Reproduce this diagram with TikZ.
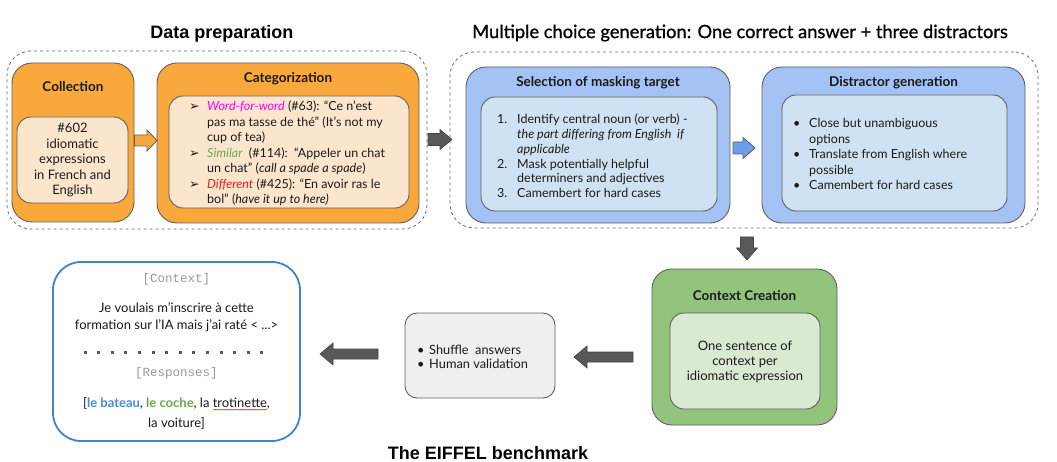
\documentclass[tikz,border=0pt]{standalone}
\usepackage{fontspec}
\setmainfont{Lato}
\newfontfamily\arialf{Liberation Sans}
\newfontfamily\monof{Liberation Mono}
\newfontfamily\dejavu{DejaVu Sans}
\newfontfamily\latomid{Lato}[FakeBold=0.9]
\usetikzlibrary{calc,decorations.pathmorphing}
\definecolor{orangeO}{HTML}{F9A93C}
\definecolor{orangeI}{HTML}{FCE5CD}
\definecolor{blueO}{HTML}{A4C2F4}
\definecolor{blueI}{HTML}{CFE2F3}
\definecolor{greenO}{HTML}{93C47D}
\definecolor{greenI}{HTML}{D9EAD3}
\definecolor{grayI}{HTML}{EFEFEF}
\definecolor{bordc}{HTML}{5F5F5F}
\definecolor{dashc}{HTML}{6A6A6A}
\definecolor{arrowgray}{HTML}{595959}
\definecolor{arrowblue}{HTML}{6D9EEB}
\definecolor{ctxblue}{HTML}{3D85C6}
\definecolor{wfw}{HTML}{FF00FF}
\definecolor{simc}{HTML}{6AA84F}
\definecolor{difc}{HTML}{E8201A}
\definecolor{batc}{HTML}{4A86E8}
\definecolor{monoc}{HTML}{999999}
\definecolor{txt}{HTML}{1A1A1A}
\newcommand\rarrow[6]{\draw[#1] ($(#2)+(0,#4)$) -- ($(#3)+(-#6,#4)$) -- ($(#3)+(-#6,#5)$) -- (#3) -- ($(#3)+(-#6,-#5)$) -- ($(#3)+(-#6,-#4)$) -- ($(#2)+(0,-#4)$) -- cycle;}
\newcommand\larrow[6]{\draw[#1] ($(#2)+(0,#4)$) -- ($(#3)+(#6,#4)$) -- ($(#3)+(#6,#5)$) -- (#3) -- ($(#3)+(#6,-#5)$) -- ($(#3)+(#6,-#4)$) -- ($(#2)+(0,-#4)$) -- cycle;}
\newcommand\darrow[6]{\draw[#1] ($(#2)+(#4,0)$) -- ($(#3)+(#4,-#6)$) -- ($(#3)+(#5,-#6)$) -- (#3) -- ($(#3)+(-#5,-#6)$) -- ($(#3)+(-#4,-#6)$) -- ($(#2)+(-#4,0)$) -- cycle;}
\newcommand\arr{\makebox[18pt][l]{\dejavu\fontsize{12.5}{12}\selectfont ➢}}
\newcommand\ind[1]{\hspace*{#1}}
\begin{document}
\begin{tikzpicture}[x=1pt,y=-1pt,
  outerbox/.style={draw=bordc, line width=0.9pt, rounded corners=20pt, inner sep=0pt},
  innerbox/.style={draw=bordc, line width=0.9pt, rounded corners=14pt, inner sep=0pt},
  boxtitle/.style={font=\bfseries\fontsize{13.5}{16}\selectfont, text=txt, inner sep=0pt},
  body/.style={font=\fontsize{12.5}{15.5}\selectfont, text=txt, inner sep=0pt},
  dashedbox/.style={draw=dashc, dashed, line width=0.8pt, rounded corners=24pt, inner sep=0pt},
  garrow/.style={fill=arrowgray, draw=arrowgray!75!black, line width=0.6pt},
  oarrow/.style={fill=orangeO, draw=bordc, line width=0.8pt},
  barrow/.style={fill=arrowblue, draw=bordc, line width=0.8pt},
  bigtitle/.style={font=\arialf\bfseries\fontsize{18}{20}\selectfont, inner sep=0pt},
]
\useasboundingbox (0,0) rectangle (1057,462);
\fill[white] (0,0) rectangle (1057,462);

% ---------- titles
\node[bigtitle] (t1) at (222,34) {Data preparation};
\node[font=\latomid\fontsize{18.3}{20}\selectfont, inner sep=0pt] (t2) at (740,33) {Multiple choice generation: One correct answer + three distractors};
\node[bigtitle] (t3) at (488,453) {The EIFFEL benchmark};

% ---------- dashed groups
\node[dashedbox, minimum width=420pt, minimum height=178pt] (dp) at (217,140) {};
\node[dashedbox, minimum width=588pt, minimum height=176pt] (mc) at (744,140) {};

% ---------- Collection
\node[outerbox, fill=orangeO, minimum width=122pt, minimum height=159pt] (coll) at (73,142.5) {};
\node[boxtitle] (collt) at (73,87) {Collection};
\node[innerbox, fill=orangeI, minimum width=111pt, minimum height=86pt] (colli) at (72.5,160) {};
\node[body, font=\fontsize{13}{15.5}\selectfont, align=center] (collx) at (72.5,160) {\#602\\idiomatic\\expressions\\in French and\\English};

% ---------- Categorization
\node[outerbox, fill=orangeO, minimum width=262pt, minimum height=160pt] (cat) at (288,143) {};
\node[boxtitle] (catt) at (288,79) {Categorization};
\node[innerbox, fill=orangeI, minimum width=240pt, minimum height=112pt] (cati) at (289,152) {};
\node[body, align=left, anchor=west] (catx) at (189,153.5) {%
\arr\textcolor{wfw}{\itshape Word-for-word} (\#63): “Ce n’est\\
\ind{18pt}pas ma tasse de thé" (It’s not my\\
\ind{18pt}cup of tea)\\
\arr\textcolor{simc}{\itshape Similar}\ \ (\#114):\ \ “Appeler un chat\\
\ind{18pt}un chat" ({\itshape call a spade a spade})\\
\arr\textcolor{difc}{\itshape Different} (\#425): “En avoir ras le\\
\ind{18pt}bol" ({\itshape have it up to here)}};

% ---------- Selection of masking target
\node[outerbox, fill=blueO, minimum width=264pt, minimum height=156pt] (sel) at (598,145) {};
\node[boxtitle] (selt) at (598,83) {Selection of masking target};
\node[innerbox, fill=blueI, minimum width=236pt, minimum height=114pt] (seli) at (599,154) {};
\node[body, font=\fontsize{12.5}{14.8}\selectfont, align=left, anchor=west] (selx) at (497,156) {%
\makebox[20pt][l]{1.}Identify central noun (or verb) -\\
\ind{20pt}{\itshape the part differing from English\ \ if}\\
\ind{20pt}{\itshape applicable}\\
\makebox[20pt][l]{2.}Mask potentially helpful\\
\ind{20pt}determiners and adjectives\\
\makebox[20pt][l]{3.}Camembert for hard cases};

% ---------- Distractor generation
\node[outerbox, fill=blueO, minimum width=263pt, minimum height=156pt] (dis) at (893.5,145) {};
\node[boxtitle] (dist) at (893.5,83) {Distractor generation};
\node[innerbox, fill=blueI, minimum width=225pt, minimum height=116pt] (disi) at (894.5,153) {};
\node[body, align=left, anchor=west] (disx) at (790,154) {%
\makebox[19pt][l]{\hspace{3pt}•}Close but unambiguous\\
\ind{19pt}options\\
\makebox[19pt][l]{\hspace{3pt}•}Translate from English where\\
\ind{19pt}possible\\
\makebox[19pt][l]{\hspace{3pt}•}Camembert for hard cases};

% ---------- Context creation
\node[outerbox, fill=greenO, minimum width=185pt, minimum height=156pt] (cc) at (744.5,347) {};
\node[boxtitle] (cct) at (744.5,296) {Context Creation};
\node[innerbox, fill=greenI, minimum width=150pt, minimum height=96pt] (cci) at (745,361) {};
\node[body, font=\fontsize{13}{15}\selectfont, align=center] (ccx) at (745,362) {One sentence of\\context per\\idiomatic expression};

% ---------- Shuffle box
\node[innerbox, rounded corners=12pt, fill=grayI, minimum width=150pt, minimum height=85pt] (shf) at (480,355.5) {};
\node[body, font=\fontsize{12.8}{14}\selectfont, align=left, anchor=west] (shfx) at (417,357) {%
\makebox[12pt][l]{•}Shuffle\ \ answers\\
\makebox[12pt][l]{•}Human validation};

% ---------- Example box
\node[draw=ctxblue, line width=1.8pt, rounded corners=28pt, fill=white, minimum width=247pt, minimum height=179pt, inner sep=0pt] (ex) at (176.5,351.5) {};
\node[font=\monof\fontsize{12.5}{13}\selectfont, text=monoc, inner sep=0pt] (exc) at (176.5,279) {[Context]};
\node[body, font=\fontsize{13}{17}\selectfont, align=center] (exs) at (176.5,317.5) {Je voulais m'inscrire à cette\\formation sur l'IA mais j'ai raté < ...>};
\foreach \i in {0,...,13} \fill[arrowgray] ({85+\i*13.6-1.5},350.5) rectangle ++(3,3);
\node[font=\monof\fontsize{12.5}{13}\selectfont, text=monoc, inner sep=0pt] (exr) at (176.5,373) {[Responses]};
\node[body, font=\fontsize{13}{20}\selectfont, align=center] (exa) at (176.5,413) {[\textcolor{batc}{\bfseries le bateau}, \textcolor{simc}{\bfseries le coche}, la \tikz[baseline=(tro.base)]{\node[inner sep=0pt, outer sep=0pt] (tro) {trotinette}; \draw[overlay, red, line width=0.4pt, decorate, decoration={snake, amplitude=0.6pt, segment length=2.5pt}] ([yshift=-2.5pt]tro.base west) -- ([yshift=-2.5pt]tro.base east);},\\la voiture]};

% ---------- arrows
\coordinate (a1s) at (134.5,140.5);
\coordinate (a1e) at (157,140.5);
\rarrow{oarrow}{a1s}{a1e}{5.5}{10.5}{10}
\coordinate (a2s) at (428,139.5);
\coordinate (a2e) at (452,139.5);
\rarrow{garrow}{a2s}{a2e}{6}{10}{12}
\coordinate (a3s) at (733,148);
\coordinate (a3e) at (755,148);
\rarrow{barrow}{a3s}{a3e}{6}{10.5}{12}
\coordinate (a4s) at (747,237);
\coordinate (a4e) at (747,260);
\darrow{garrow}{a4s}{a4e}{6.5}{10.5}{12}
\coordinate (a5s) at (633,357);
\coordinate (a5e) at (574,357);
\larrow{garrow}{a5s}{a5e}{5}{11}{13}
\coordinate (a6s) at (378,354);
\coordinate (a6e) at (320,354);
\larrow{garrow}{a6s}{a6e}{5}{11}{13}
\end{tikzpicture}
\end{document}
